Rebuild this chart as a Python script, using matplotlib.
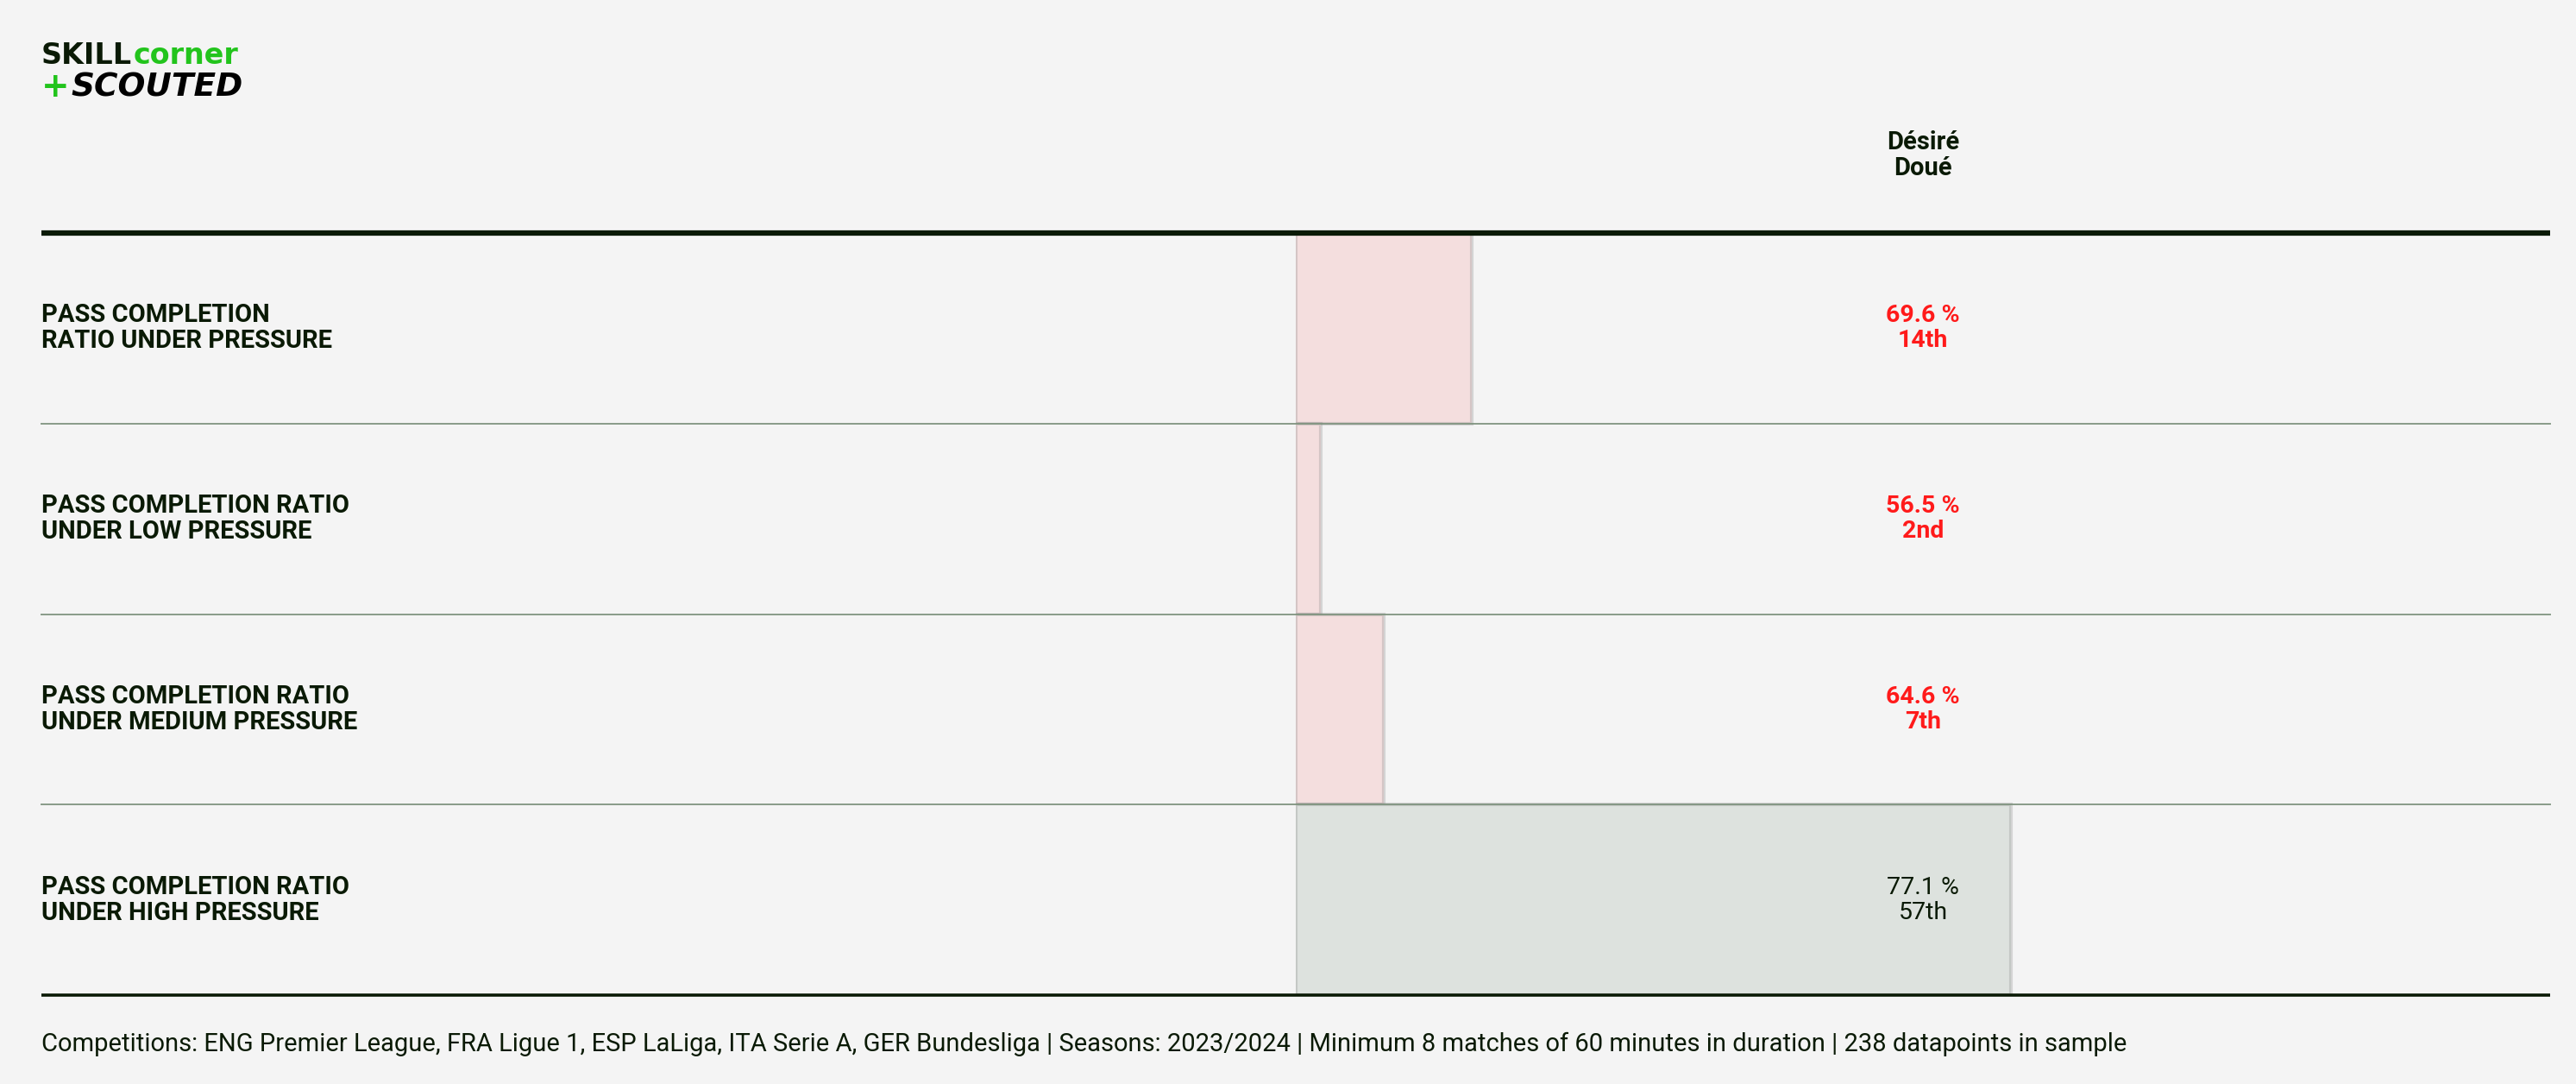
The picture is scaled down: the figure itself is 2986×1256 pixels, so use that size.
import matplotlib.pyplot as plt

plt.rcParams["font.family"] = ["Roboto", "DejaVu Sans"]

# data
metrics = [
    "PASS COMPLETION\nRATIO UNDER PRESSURE",
    "PASS COMPLETION RATIO\nUNDER LOW PRESSURE",
    "PASS COMPLETION RATIO\nUNDER MEDIUM PRESSURE",
    "PASS COMPLETION RATIO\nUNDER HIGH PRESSURE",
]
values = [69.6, 56.5, 64.6, 77.1]
percentiles = [14, 2, 7, 57]
rank_labels = ["14th", "2nd", "7th", "57th"]
player = "Désiré\nDoué"
footer = ("Competitions: ENG Premier League, FRA Ligue 1, ESP LaLiga, ITA Serie A, "
          "GER Bundesliga | Seasons: 2023/2024 | Minimum 8 matches of 60 minutes in "
          "duration | 238 datapoints in sample")

BG = "#f4f4f4"
DARK = "#0a1a05"
RED = "#ff1a1a"
GREEN = "#22c41c"

W, H = 2986, 1256
fig = plt.figure(figsize=(W / 100, H / 100), dpi=100, facecolor=BG)

top, bottom = 270, 1153
left, right = 48, 2956
bar_x0 = 1502
row_h = (bottom - top) / len(metrics)
val_x = 2229

# bar axes: x is percentile 0-100
bax = fig.add_axes([bar_x0 / W, (H - bottom) / H, (right - bar_x0) / W, (bottom - top) / H])
bax.set_xlim(0, 100)
bax.set_ylim(len(metrics) - 0.5, -0.5)
bax.axis("off")
bax.set_zorder(1)

for i, p in enumerate(percentiles):
    face = "#f4dede" if p < 33 else "#dde2de"
    bax.barh(i, p, height=1.0, left=0, color=face,
             edgecolor=(0.55, 0.55, 0.55, 0.3), linewidth=3)

# layout axes in pixel coordinates, drawn over the bars
lay = fig.add_axes([0, 0, 1, 1])
lay.set_xlim(0, W)
lay.set_ylim(H, 0)
lay.axis("off")
lay.set_zorder(2)
lay.patch.set_alpha(0)

# lines
lay.plot([left, right], [top, top], color=DARK, lw=4.5, solid_capstyle="butt")
for k in range(1, len(metrics)):
    y = top + k * row_h
    lay.plot([left, right], [y, y], color="#7d927d", lw=1.4, alpha=0.9)
lay.plot([left, right], [bottom, bottom], color=DARK, lw=2.6, solid_capstyle="butt")

# row texts
for i, (m, v, r, p) in enumerate(zip(metrics, values, rank_labels, percentiles)):
    yc = top + (i + 0.5) * row_h
    lay.text(left, yc, m, ha="left", va="center", fontsize=21,
             fontweight="bold", color=DARK, linespacing=1.1)
    bad = p < 33
    lay.text(val_x, yc, f"{v} %\n{r}", ha="center", va="center", fontsize=20.5,
             fontweight="bold" if bad else "normal",
             color=RED if bad else DARK, linespacing=1.1)

# header
lay.text(val_x, 180, player, ha="center", va="center", fontsize=21,
         fontweight="bold", color=DARK, linespacing=1.1)

# logo
t1 = lay.text(left, 74, "SKILL", ha="left", va="baseline", fontsize=24,
              fontweight="bold", family="DejaVu Sans", color=DARK)
fig.canvas.draw()
bb = t1.get_window_extent()
lay.text(left + bb.width + 1, 74, "corner", ha="left", va="baseline", fontsize=24,
         fontweight="bold", family="DejaVu Sans", color=GREEN)
lay.text(left, 112, "+", ha="left", va="baseline", fontsize=28,
         fontweight="bold", family="DejaVu Sans", color=GREEN)
lay.text(left + 34, 112, "SCOUTED", ha="left", va="baseline", fontsize=27,
         fontweight="bold", fontstyle="italic", family="DejaVu Sans", color="black")

# footer
lay.text(left, 1210, footer, ha="left", va="center", fontsize=21, color=DARK)

fig.savefig("out.png", dpi=100, facecolor=BG)
